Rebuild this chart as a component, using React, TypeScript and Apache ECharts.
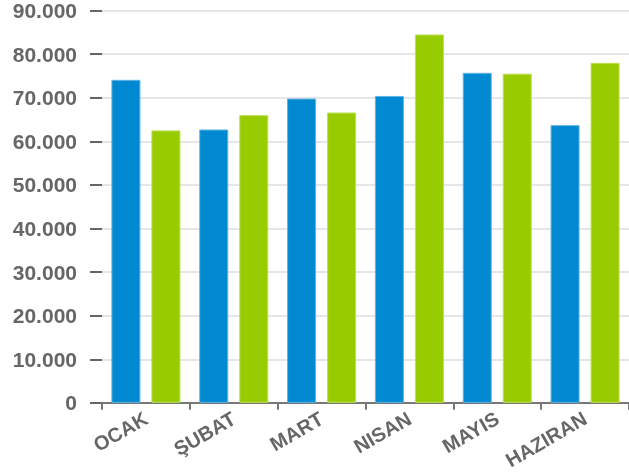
import React, { useEffect, useRef } from "react";
import * as echarts from "echarts";

const categories = ["OCAK", "ŞUBAT", "MART", "NISAN", "MAYIS", "HAZIRAN"];
const seriesA = [74100, 62700, 69800, 70400, 75700, 63700];
const seriesB = [62500, 66000, 66600, 84500, 75500, 78000];

const fmt = (v: number) => {
  if (v === 0) return "0";
  const s = String(Math.round(v));
  return s.replace(/\B(?=(\d{3})+(?!\d))/g, ".");
};

export default function App() {
  const ref = useRef<HTMLDivElement>(null);
  useEffect(() => {
    if (!ref.current) return;
    const chart = echarts.init(ref.current, null, { renderer: "svg" });
    const labelStyle = {
      color: "#666666",
      fontWeight: "bold" as const,
      fontFamily: "'Liberation Sans', Arial, sans-serif",
      fontSize: 21,
    };
    chart.setOption({
      animation: false,
      grid: { left: 102, right: 0, top: 10, bottom: 69, containLabel: false },
      xAxis: {
        type: "category",
        data: categories,
        axisLine: { show: true, lineStyle: { color: "#777777", width: 2 } },
        axisTick: { show: true, alignWithLabel: false, length: 7, lineStyle: { color: "#777777", width: 2 } },
        axisLabel: { ...labelStyle, fontSize: 20, rotate: 30, margin: 14, interval: 0 },
      },
      yAxis: {
        type: "value",
        min: 0,
        max: 90000,
        interval: 10000,
        axisLine: { show: false },
        axisTick: { show: true, length: 12, lineStyle: { color: "#666666", width: 2 } },
        splitLine: { show: true, lineStyle: { color: "#e6e6e6", width: 2 } },
        axisLabel: { ...labelStyle, margin: 25, formatter: (v: number) => fmt(v) },
      },
      series: [
        {
          type: "bar",
          data: seriesA,
          barWidth: 29,
          barGap: "38%",
          itemStyle: { color: "#0088d1", borderColor: "#5fb3e3", borderWidth: 1 },
        },
        {
          type: "bar",
          data: seriesB,
          barWidth: 29,
          barGap: "38%",
          itemStyle: { color: "#99cc00", borderColor: "#bddf55", borderWidth: 1 },
        },
      ],
    });
    return () => chart.dispose();
  }, []);
  return (
    <div
      ref={ref}
      style={{ position: "fixed", left: 0, top: 0, width: 629, height: 472 }}
    />
  );
}
